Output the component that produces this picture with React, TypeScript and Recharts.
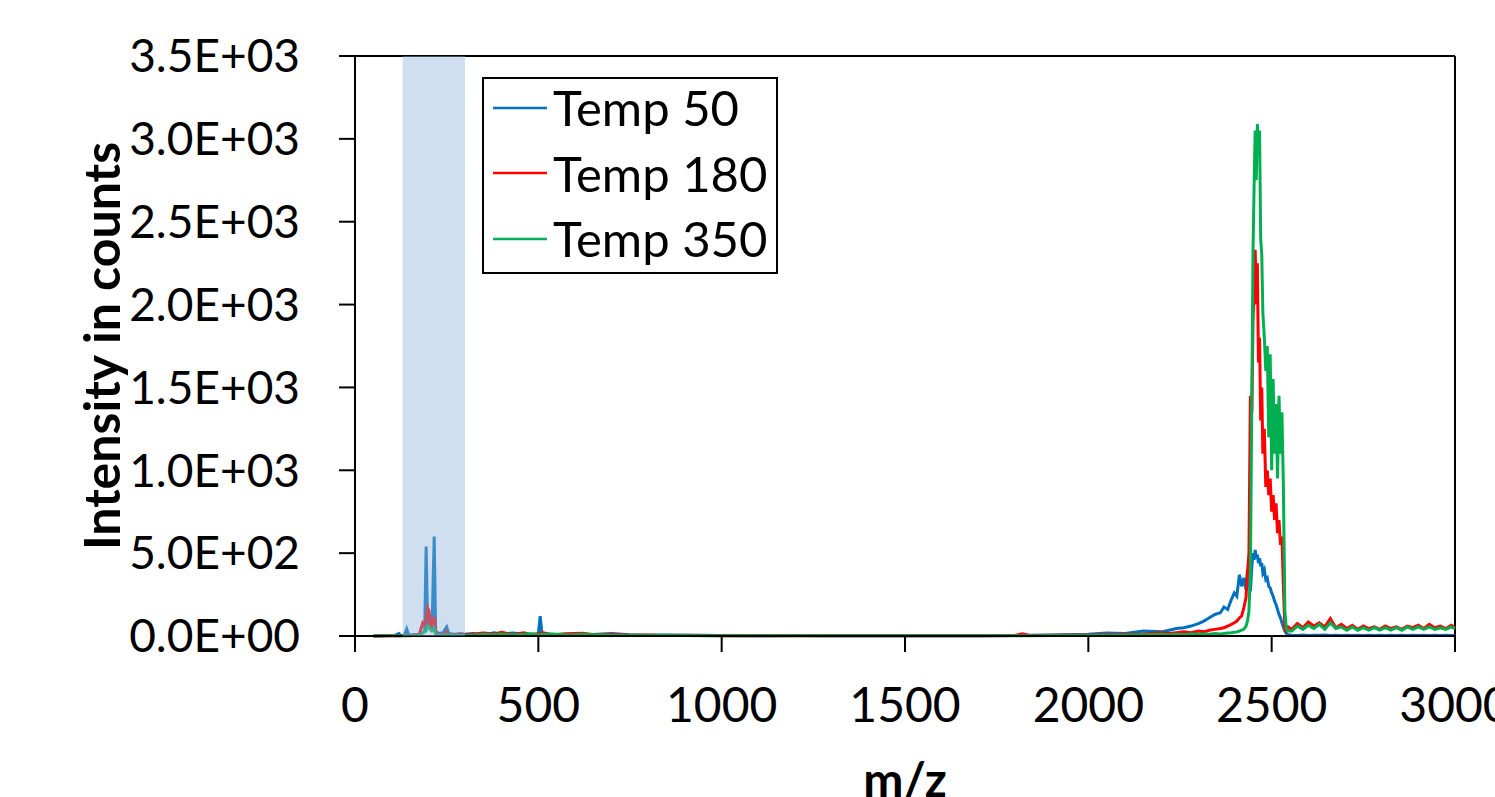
import React from 'react';
import { LineChart, Line, XAxis, YAxis, ReferenceArea, ReferenceLine, Legend } from 'recharts';

// m/z positions (shared by all three spectra)
const mz = [
  50, 80, 110, 120, 125, 135, 141, 147, 160, 175, 185, 190, 194, 198, 202, 206, 210, 216, 220, 228, 240, 250, 256, 270, 290, 300,
  320, 350, 380, 400, 430, 460, 480, 500, 505, 510, 540, 580, 620, 660, 700, 750, 800, 850, 900, 950, 1000,
  1100, 1200, 1300, 1400, 1500, 1600, 1700, 1800, 1820, 1840, 1900, 2000, 2050, 2100, 2150, 2200,
  2220, 2240, 2260, 2280, 2300, 2315, 2330, 2345, 2360, 2370, 2380, 2390, 2398, 2405, 2412, 2418, 2424, 2430, 2434, 2438, 2442, 2446, 2449, 2452, 2455, 2458, 2461, 2464, 2467, 2470, 2473, 2476, 2480, 2484, 2488, 2492, 2496, 2500, 2504, 2508, 2512, 2516, 2520, 2524, 2528, 2532, 2536, 2540, 2545,
  2555, 2570, 2585, 2600, 2615, 2630, 2645, 2660, 2675, 2690, 2705, 2720, 2735, 2750, 2765, 2780, 2795, 2810, 2825, 2840, 2855, 2870, 2885, 2900, 2915, 2930, 2945, 2960, 2975, 2990, 3000,
];

const temp50 = [
  0, 2, 5, 15, 3, 5, 42, 5, 8, 10, 20, 30, 540, 60, 120, 60, 40, 600, 30, 15, 20, 55, 15, 10, 15, 10,
  15, 8, 20, 10, 18, 12, 8, 10, 120, 12, 8, 12, 6, 10, 15, 8, 5, 6, 5, 4, 3,
  2, 3, 2, 2, 1, 2, 2, 3, 3, 4, 6, 10, 18, 15, 30, 25,
  35, 45, 50, 60, 75, 90, 110, 130, 140, 175, 160, 220, 260, 240, 370, 300, 350, 280, 400, 330, 270, 420, 500, 460, 520, 470, 490, 440, 470, 420, 440, 380, 400, 340, 350, 300, 290, 260, 240, 210, 190, 160, 130, 110, 80, 55, 30, 15, 8,
  5, 3, 6, 3, 5, 4, 6, 3, 5, 3, 4, 3, 5, 3, 4, 3, 5, 3, 4, 3, 5, 3, 4, 3, 5, 3, 4, 3, 5, 3, 4,
];

const temp180 = [
  0, 1, 2, 3, 2, 3, 5, 3, 5, 8, 80, 70, 90, 170, 150, 60, 80, 115, 20, 10, 8, 25, 8, 5, 10, 8,
  10, 18, 12, 22, 8, 20, 10, 14, 10, 20, 8, 14, 16, 6, 10, 4, 6, 3, 4, 3, 2,
  2, 1, 2, 1, 2, 1, 2, 3, 14, 3, 4, 6, 8, 10, 12, 20,
  15, 20, 25, 20, 30, 25, 35, 40, 45, 50, 60, 70, 80, 90, 110, 120, 170, 230, 380, 500, 1450, 1350, 1900, 2100, 2330, 2000, 2250, 1650, 1800, 1300, 1500, 1100, 1250, 900, 1000, 850, 950, 750, 850, 700, 800, 620, 700, 550, 600, 300, 40, 30, 55,
  40, 75, 50, 85, 60, 80, 55, 105, 50, 70, 45, 65, 40, 60, 45, 55, 40, 60, 45, 55, 40, 60, 50, 65, 45, 70, 50, 60, 45, 65, 50,
];

const temp350 = [
  0, 1, 1, 2, 1, 2, 3, 2, 3, 5, 20, 25, 30, 60, 55, 40, 30, 45, 10, 8, 6, 10, 5, 4, 5, 4,
  5, 10, 8, 12, 6, 10, 14, 8, 6, 10, 12, 6, 10, 8, 4, 5, 3, 4, 3, 2, 2,
  1, 1, 1, 1, 1, 1, 1, 2, 2, 2, 3, 4, 5, 6, 8, 10,
  8, 10, 8, 12, 10, 12, 10, 15, 12, 15, 18, 20, 22, 25, 30, 35, 40, 60, 90, 150, 400, 1450, 2300, 2700, 3050, 2750, 3090, 2900, 3050, 2400, 2300, 1950, 1800, 1600, 1750, 1200, 1700, 1000, 1550, 1100, 1400, 950, 1450, 1100, 1350, 900, 150, 40, 30,
  30, 60, 40, 65, 45, 70, 40, 80, 45, 55, 35, 55, 35, 50, 35, 50, 35, 50, 35, 50, 35, 55, 40, 55, 40, 55, 40, 50, 40, 55, 45,
];

const xTicks = [0, 500, 1000, 1500, 2000, 2500, 3000];
const yTicks = [0, 500, 1000, 1500, 2000, 2500, 3000, 3500];
const seriesNames = ['Temp 50', 'Temp 180', 'Temp 350'];
const seriesColors = ['#0070C0', '#FF0000', '#00B050'];
const bandRange = [130, 300];

const data = mz.map((m, i) => ({ mz: m, t50: temp50[i], t180: temp180[i], t350: temp350[i] }));

const FONT = 'Lato, "Noto Sans", sans-serif';
const W = 1495;
const H = 797;
const MARGIN = { top: 56, right: 40, bottom: 0, left: 0 };
const Y_AXIS_W = 355;
const X_AXIS_H = 161;

const fmtSci = (v: number) => {
  if (v === 0) return '0.0E+00';
  const e = Math.floor(Math.log10(Math.abs(v)));
  const m = v / Math.pow(10, e);
  const sign = e < 0 ? '-' : '+';
  return `${m.toFixed(1)}E${sign}${String(Math.abs(e)).padStart(2, '0')}`;
};

const LegendBox = () => (
  <div
    style={{
      boxSizing: 'border-box',
      width: 296,
      height: 197,
      border: '2px solid #000',
      background: '#fff',
      fontFamily: FONT,
      fontSize: 49,
      color: '#000',
      overflow: 'hidden',
    }}
  >
    <div style={{ marginTop: -4 }}>
      {seriesNames.map((n, i) => (
        <div key={n} style={{ display: 'flex', alignItems: 'center', height: 65.5 }}>
          <svg width={64} height={10} style={{ marginLeft: 9, flex: 'none' }}>
            <line x1={0} y1={5} x2={54} y2={5} stroke={seriesColors[i]} strokeWidth={2.5} />
          </svg>
          <span style={{ lineHeight: 1, marginLeft: -4, whiteSpace: 'nowrap' }}>{n}</span>
        </div>
      ))}
    </div>
  </div>
);

const YLabel = (props: any) => {
  const vb = props.viewBox || {};
  const cx = vb.x + 101;
  const cy = vb.y + vb.height / 2;
  return (
    <text
      x={cx}
      y={cy}
      transform={`rotate(-90, ${cx}, ${cy})`}
      textAnchor="middle"
      dominantBaseline="central"
      fontFamily={FONT}
      fontWeight="bold"
      fontSize={50}
      fill="#000"
    >
      Intensity in counts
    </text>
  );
};

const XLabel = (props: any) => {
  const vb = props.viewBox || {};
  const cx = vb.x + vb.width / 2;
  const cy = vb.y + 142;
  return (
    <text x={cx} y={cy} textAnchor="middle" dominantBaseline="central" fontFamily={FONT} fontWeight="bold" fontSize={48} fill="#000">
      m/z
    </text>
  );
};

export default function App() {
  return (
    <div style={{ position: 'absolute', left: 0, top: 0, width: W, height: H, background: '#fff', overflow: 'hidden' }}>
      <LineChart width={W} height={H} data={data} margin={MARGIN}>
        <XAxis
          dataKey="mz"
          type="number"
          domain={[0, 3000]}
          ticks={xTicks}
          tickSize={16}
          tickMargin={36}
          height={X_AXIS_H}
          axisLine={{ stroke: '#000', strokeWidth: 2 }}
          tickLine={{ stroke: '#000', strokeWidth: 2 }}
          tick={{ fill: '#000', fontSize: 48, fontFamily: FONT }}
          interval={0}
          label={<XLabel />}
        />
        <YAxis
          type="number"
          domain={[0, 3500]}
          ticks={yTicks}
          tickFormatter={fmtSci}
          width={Y_AXIS_W}
          tickSize={16}
          tickMargin={39}
          axisLine={{ stroke: '#000', strokeWidth: 2 }}
          tickLine={{ stroke: '#000', strokeWidth: 2 }}
          tick={{ fill: '#000', fontSize: 46, fontFamily: FONT }}
          interval={0}
          label={<YLabel />}
        />
        <ReferenceLine y={3500} stroke="#000" strokeWidth={2} />
        <ReferenceLine x={3000} stroke="#000" strokeWidth={2} />
        <Line dataKey="t50" name={seriesNames[0]} stroke={seriesColors[0]} strokeWidth={3} dot={false} isAnimationActive={false} />
        <Line dataKey="t180" name={seriesNames[1]} stroke={seriesColors[1]} strokeWidth={3} dot={false} isAnimationActive={false} />
        <Line dataKey="t350" name={seriesNames[2]} stroke={seriesColors[2]} strokeWidth={3} dot={false} isAnimationActive={false} />
        <Legend
          layout="horizontal"
          verticalAlign="middle"
          align="center"
          wrapperStyle={{ left: 482, top: 77, width: 296, height: 197 }}
          content={<LegendBox />}
        />
      </LineChart>
      {/* translucent highlight band drawn above the spectra, sharing the same scales */}
      <div style={{ position: 'absolute', left: 0, top: 0, width: W, height: H, pointerEvents: 'none' }}>
        <LineChart
          width={W}
          height={H}
          data={data}
          margin={{ top: MARGIN.top, right: MARGIN.right, bottom: MARGIN.bottom, left: MARGIN.left }}
        >
          <XAxis dataKey="mz" type="number" domain={[0, 3000]} height={X_AXIS_H} tick={false} axisLine={false} tickLine={false} />
          <YAxis type="number" domain={[0, 3500]} width={Y_AXIS_W} tick={false} axisLine={false} tickLine={false} />
          <Line dataKey="t50" stroke="none" strokeOpacity={0} dot={false} activeDot={false} isAnimationActive={false} />
          <ReferenceArea x1={bandRange[0]} x2={bandRange[1]} y1={0} y2={3500} fill="#8fb3d9" fillOpacity={0.42} stroke="none" />
        </LineChart>
      </div>
    </div>
  );
}
